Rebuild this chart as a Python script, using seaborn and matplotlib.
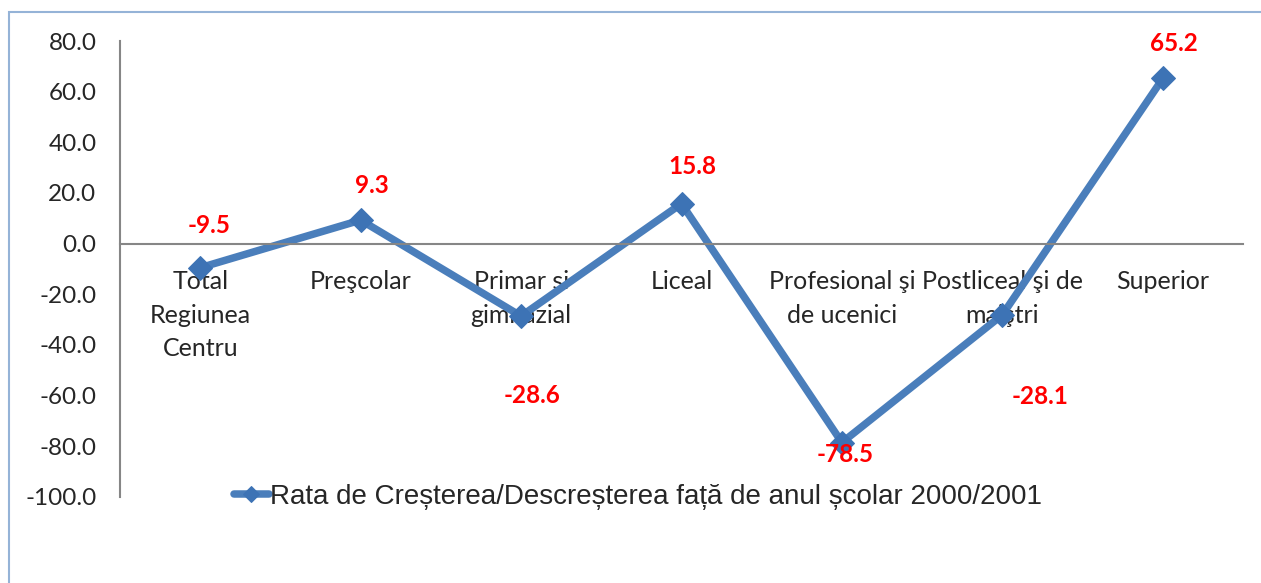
import pandas as pd
import matplotlib
matplotlib.use("Agg")
import matplotlib.pyplot as plt
import seaborn as sns
from matplotlib.patches import Rectangle


categories = ["Total\nRegiunea\nCentru", "Preşcolar", "Primar şi\ngimnazial", "Liceal",
              "Profesional şi\nde ucenici", "Postliceal şi de\nmaiştri", "Superior"]
values = [-9.5, 9.3, -28.6, 15.8, -78.5, -28.1, 65.2]
series_name = "Rata de Creșterea/Descreșterea față de anul școlar 2000/2001"
y_ticks = [80, 60, 40, 20, 0, -20, -40, -60, -80, -100]

# where Excel put each data label relative to its point (pixels)
label_offsets = [(9, 42), (11, 35), (11, -79), (11, 37), (3, -12), (38, -82), (11, 35)]

df = pd.DataFrame({"cat": categories, "val": values})
df["pos"] = range(len(df))

sns.set_style("white")
plt.rcParams["font.family"] = ["Lato", "DejaVu Sans"]

fig = plt.figure(figsize=(12.61, 5.83), dpi=100)
ax = fig.add_axes([120 / 1261, 1 - 497 / 583, (1243 - 120) / 1261, (497 - 41) / 583])

# light frame around the chart area
fig.patches.append(Rectangle((9 / 1261, -0.1), 1.2, 1 - 12 / 583 + 0.1, transform=fig.transFigure,
                             fill=False, edgecolor="#95B3D7", linewidth=1.5))

sns.lineplot(data=df, x="pos", y="val", ax=ax, color="#4A7EBB", linewidth=5.4,
             marker="D", markersize=12, markerfacecolor="#3D73B5", markeredgecolor="#3D73B5",
             label=series_name)

# axis crosses at zero, category labels hang under it
ax.spines["bottom"].set_position(("data", 0))
ax.spines["bottom"].set_color("#868686")
ax.spines["bottom"].set_linewidth(1.5)
ax.spines["left"].set_color("#868686")
ax.spines["left"].set_linewidth(1.5)
ax.spines["top"].set_visible(False)
ax.spines["right"].set_visible(False)

for i, (v, off) in enumerate(zip(values, label_offsets)):
    ax.annotate(f"{v:.1f}", (i, v), xytext=(off[0] * 0.72, off[1] * 0.72), textcoords="offset points",
                ha="center", va="center", color="red", fontsize=17.5, fontweight="bold")

ax.set_xlim(-0.5, len(categories) - 0.5)
ax.set_ylim(-100, 80)
ax.set_yticks(y_ticks)
ax.set_yticklabels([f"{t:.1f}" for t in y_ticks], fontsize=17.5)
ax.set_xticks(range(len(categories)))
ax.set_xticklabels(categories, fontsize=18, linespacing=1.55)
ax.tick_params(axis="both", length=0)
ax.tick_params(axis="x", pad=19)
ax.tick_params(axis="y", pad=17)
ax.set_xlabel("")
ax.set_ylabel("")

leg = ax.legend(loc="center", bbox_to_anchor=(638 / 1261, 1 - 497 / 583), bbox_transform=fig.transFigure,
                frameon=False, handlelength=1.25, handletextpad=0.05,
                prop={"family": "Liberation Sans", "size": 20})
for h in leg.legend_handles:
    h.set_markersize(8)
    h.set_solid_capstyle("round")

fig.savefig("out.png", dpi=100)
